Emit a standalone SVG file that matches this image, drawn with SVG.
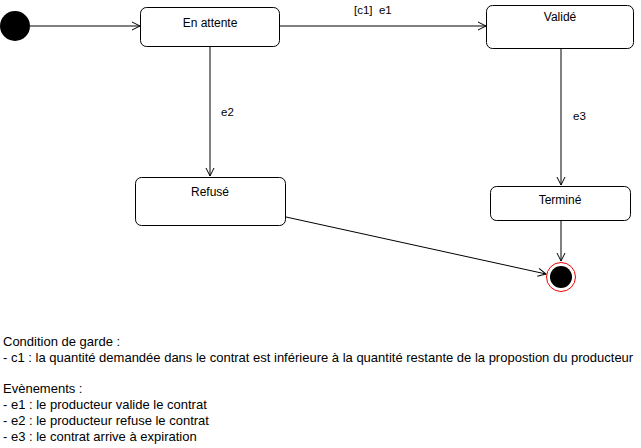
<svg xmlns="http://www.w3.org/2000/svg" width="641" height="448" viewBox="0 0 641 448">
<style>
.box{fill:#fff;stroke:#000;stroke-width:1}
.t{font-family:"Liberation Sans",Arial,sans-serif;font-size:11.5px;fill:#000;white-space:pre}
.b{font-family:"Liberation Sans",Arial,sans-serif;font-size:12px;fill:#000;text-anchor:middle}
.ln{fill:none;stroke:#000;stroke-width:1}
.n{font-family:"Liberation Sans",Arial,sans-serif;font-size:13px;fill:#000}
</style>
<defs>
<marker id="open" viewBox="-10 -6 12 12" refX="0" refY="0" markerWidth="12" markerHeight="12" markerUnits="userSpaceOnUse" orient="auto">
<path d="M-8,-4 L0,0 L-8,4" fill="none" stroke="#000" stroke-width="1"/>
</marker>
</defs>
<g id="connectors">
<line class="ln" x1="30" y1="26" x2="140" y2="26" marker-end="url(#open)"/>
<line class="ln" x1="280" y1="26" x2="486" y2="26" marker-end="url(#open)"/>
<line class="ln" x1="210" y1="46" x2="210" y2="176" marker-end="url(#open)"/>
<line class="ln" x1="561" y1="48" x2="561" y2="185" marker-end="url(#open)"/>
<line class="ln" x1="561" y1="221" x2="561" y2="261" marker-end="url(#open)"/>
<line class="ln" x1="286" y1="217" x2="546" y2="274" marker-end="url(#open)"/>
<text class="t" x="354" y="14" xml:space="preserve">[c1]  e1</text>
<text class="t" x="221" y="116">e2</text>
<text class="t" x="573" y="120">e3</text>
</g>
<g id="initial"><circle cx="15" cy="26" r="15" fill="#000"/></g>
<g id="en-attente"><rect class="box" x="140.5" y="7.5" width="139" height="39" rx="6"/><text class="b" x="210" y="27">En attente</text></g>
<g id="valide"><rect class="box" x="486.5" y="5.5" width="147" height="43" rx="6"/><text class="b" x="560" y="21">Validé</text></g>
<g id="refuse"><rect class="box" x="135.5" y="177.5" width="150" height="48" rx="6"/><text class="b" x="210" y="196">Refusé</text></g>
<g id="termine"><rect class="box" x="490.5" y="186.5" width="140" height="34" rx="6"/><text class="b" x="560" y="204">Terminé</text></g>
<g id="final"><circle cx="561" cy="277" r="14.5" fill="#fff" stroke="#e00" stroke-width="1"/><circle cx="561" cy="277" r="11" fill="#000"/></g>
<g id="notes">
<text class="n" x="3" y="346">Condition de garde :</text>
<text class="n" x="3" y="362">- c1 : la quantité demandée dans le contrat est inférieure à la quantité restante de la propostion du producteur</text>
<text class="n" x="3" y="393">Evènements :</text>
<text class="n" x="3" y="409">- e1 : le producteur valide le contrat</text>
<text class="n" x="3" y="425">- e2 : le producteur refuse le contrat</text>
<text class="n" x="3" y="441">- e3 : le contrat arrive à expiration</text>
</g>
</svg>
